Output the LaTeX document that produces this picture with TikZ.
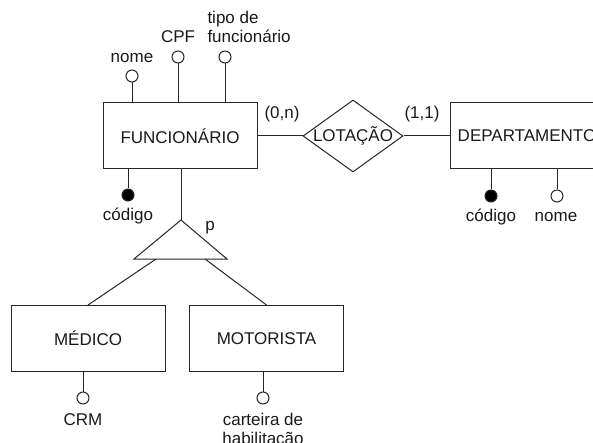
\documentclass[tikz,border=0pt]{standalone}
\usepackage{fontspec}
\setmainfont{Liberation Sans}
\usetikzlibrary{shapes.geometric}
\begin{document}
\begin{tikzpicture}[x=1pt,y=-1pt, line width=1pt, draw=black!85,
  every node/.style={font=\fontsize{17}{19}\selectfont, text=black!90},
  entity/.style={draw, rectangle, minimum width=154pt, minimum height=66pt, inner sep=0pt},
  attr/.style={draw, circle, fill=white, minimum size=12pt, inner sep=0pt},
  keyattr/.style={draw, circle, fill=black, minimum size=12pt, inner sep=0pt},
  lbl/.style={inner sep=0pt, anchor=base},
  rel/.style={draw, diamond, minimum width=100pt, minimum height=72pt, inner sep=0pt}]
\useasboundingbox (0,0) rectangle (593,443);

% entities
\node[entity] (func) at (180,136) {FUNCION\'ARIO};
\node[entity] (dep) at (527,136) {DEPARTAMENTO};
\node[entity] (med) at (88,338.5) {M\'EDICO};
\node[entity] (mot) at (266.5,338.5) {MOTORISTA};
\node[rel] (lot) at (353,136) {\smash{\raisebox{-6pt}{\makebox[0pt]{LOTAÇÃO}}}};

% relationship
\draw (func.east) -- (lot.west);
\draw (lot.east) -- (dep.west);
\node[lbl] (card1) at (282,119) {(0,n)};
\node[lbl] (card2) at (422,119) {(1,1)};

% funcionario attributes
\node[attr] (anome) at (132,76) {};
\node[attr] (acpf) at (178,57) {};
\node[attr] (atipo) at (225,57) {};
\node[keyattr] (acod) at (128,195) {};
\draw (anome) -- (anome |- func.north);
\draw (acpf) -- (acpf |- func.north);
\draw (atipo) -- (atipo |- func.north);
\draw (acod |- func.south) -- (acod);
\node[lbl] (lnome) at (132,63) {nome};
\node[lbl] (lcpf) at (178,43) {CPF};
\node[lbl, anchor=base west] (ltipo) at (207,43) {\begin{tabular}[b]{@{}l@{}}tipo de\\ funcion\'ario\end{tabular}};
\node[lbl] (lcod) at (128,221) {c\'odigo};

% departamento attributes
\node[keyattr] (dcod) at (491,196) {};
\node[attr] (dnome) at (557,196) {};
\draw (dcod |- dep.south) -- (dcod);
\draw (dnome |- dep.south) -- (dnome);
\node[lbl] (ldcod) at (491,222) {c\'odigo};
\node[lbl] (ldnome) at (556,222) {nome};

% specialization
\coordinate (apex) at (181,220);
\coordinate (bl) at (134,259);
\coordinate (br) at (227,259);
\coordinate (tl) at (156,259);
\coordinate (tr) at (205,259);
\draw (func.south -| apex) -- (apex);
\draw (apex) -- (bl) -- (br) -- cycle;
\node[lbl] (lp) at (210,230) {p};
\draw (tl) -- (med.north);
\draw (tr) -- (mot.north);

% subclass attributes
\node[attr] (acrm) at (83,398) {};
\node[attr] (acart) at (263,398) {};
\draw (acrm |- med.south) -- (acrm);
\draw (acart |- mot.south) -- (acart);
\node[lbl] (lcrm) at (83,425) {CRM};
\node[lbl] (lcart) at (263,425) {\begin{tabular}[t]{@{}c@{}}carteira de\\ habilita\c{c}\~ao\end{tabular}};
\end{tikzpicture}
\end{document}
